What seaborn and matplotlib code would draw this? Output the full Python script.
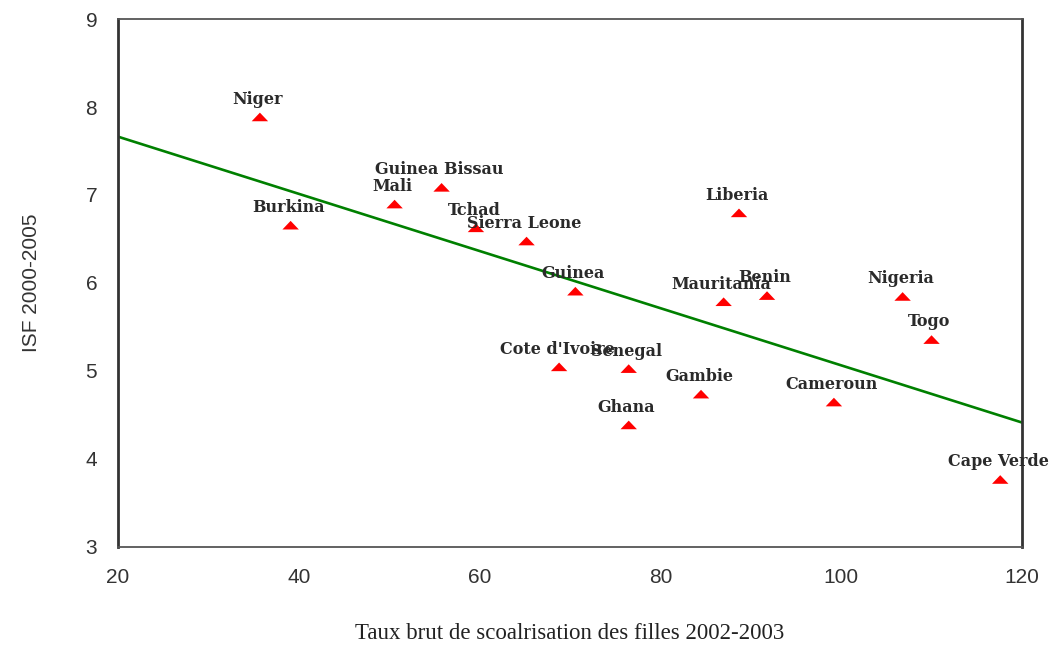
import pandas as pd
import matplotlib
matplotlib.use('Agg')
import matplotlib.pyplot as plt
import seaborn as sns

# données
pays = ['Niger', 'Burkina', 'Mali', 'Guinea Bissau', 'Tchad', 'Sierra Leone',
        'Guinea', "Cote d'Ivoire", 'Senegal', 'Ghana', 'Gambie', 'Mauritania',
        'Liberia', 'Benin', 'Cameroun', 'Nigeria', 'Togo', 'Cape Verde']
scolarisation = [35.7, 39.1, 50.6, 55.8, 59.6, 65.2,
                 70.6, 68.8, 76.5, 76.5, 84.5, 87.0,
                 88.7, 91.8, 99.2, 106.8, 110.0, 117.6]
isf = [7.88, 6.65, 6.89, 7.08, 6.62, 6.47,
       5.90, 5.04, 5.02, 4.38, 4.73, 5.78,
       6.79, 5.85, 4.64, 5.84, 5.35, 3.76]

df = pd.DataFrame({'pays': pays, 'x': scolarisation, 'y': isf})

sns.set_style('white')
plt.rcParams['font.family'] = ['Liberation Sans', 'DejaVu Sans']

fig = plt.figure(figsize=(10.59, 6.51), dpi=100)
ax = fig.add_axes([0.1114, 0.1598, 0.8536, 0.8110])
ax.set_xlim(20, 120)
ax.set_ylim(3, 9)

# triangle aplati
tri = [(-1, -0.45), (1, -0.45), (0, 0.6)]
sns.scatterplot(data=df, x='x', y='y', ax=ax, marker=tri, s=140,
                color='red', edgecolor='none', zorder=3)
sns.regplot(data=df, x='x', y='y', ax=ax, scatter=False, ci=None,
            truncate=False, line_kws={'color': '#008000', 'lw': 1.9})
ax.set_xlim(20, 120)
ax.set_ylim(3, 9)

for _, r in df.iterrows():
    ax.annotate(r['pays'], (r['x'], r['y']), xytext=(-1.5, 7),
                textcoords='offset points', ha='center', va='bottom',
                fontsize=11.5, fontweight='bold', family='DejaVu Serif',
                color='#2a2a2a', clip_on=False, annotation_clip=False)

ax.set_xticks([20, 40, 60, 80, 100, 120])
ax.set_yticks([3, 4, 5, 6, 7, 8, 9])
ax.tick_params(axis='both', direction='out', length=6, width=2.5,
               labelsize=15, colors='black', labelcolor='#333333')
ax.tick_params(axis='x', pad=9)
ax.tick_params(axis='y', pad=9)

for side in ['left', 'right']:
    ax.spines[side].set_linewidth(2)
    ax.spines[side].set_color('#333333')
for side in ['top', 'bottom']:
    ax.spines[side].set_linewidth(1.3)
    ax.spines[side].set_color('#555555')

ax.set_xlabel('Taux brut de scoalrisation des filles 2002-2003',
              family='Liberation Serif', fontsize=16.5, labelpad=26, color='#222222')
ax.set_ylabel('ISF 2000-2005', fontsize=15, labelpad=32, color='#333333')

plt.savefig('out.png', dpi=100)
